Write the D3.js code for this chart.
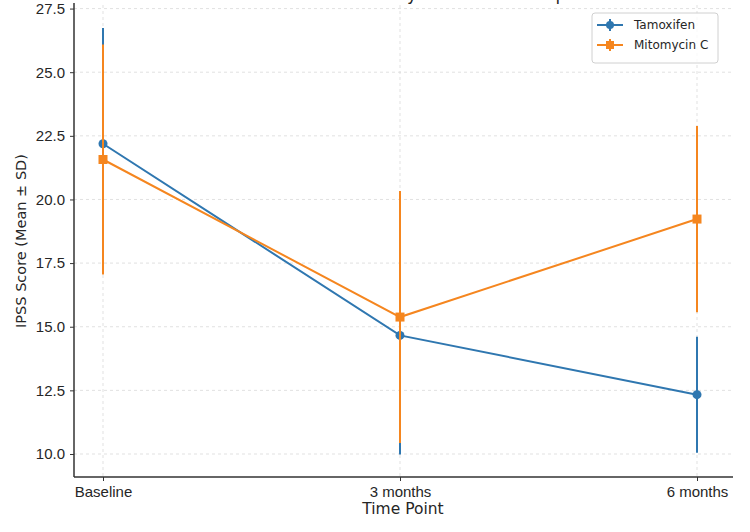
<!DOCTYPE html>
<html>
<head>
<meta charset="utf-8">
<script src="https://cdn.jsdelivr.net/npm/d3@7"></script>
<style>
  body { margin: 0; background: #fff; }
  svg { font-family: "DejaVu Sans", sans-serif; }
  .grid line { stroke: #d9d9d9; stroke-dasharray: 3,3; stroke-width: 0.8; }
  .tick text { fill: #262626; font-size: 15px; }
</style>
</head>
<body>
<svg id="chart" width="750" height="532"></svg>
<script>
// data
var timePoints = ["Baseline", "3 months", "6 months"];
var tamoxifenMean = [22.19, 14.66, 12.33];
var tamoxifenSD = [4.55, 4.68, 2.28];
var mitomycinMean = [21.57, 15.38, 19.23];
var mitomycinSD = [4.52, 4.95, 3.66];
var yTicks = [10.0, 12.5, 15.0, 17.5, 20.0, 22.5, 25.0, 27.5];

var series = [
    { name: "Tamoxifen", color: "#2f77b0", shape: "circle", mean: tamoxifenMean, sd: tamoxifenSD },
    { name: "Mitomycin C", color: "#f5861f", shape: "square", mean: mitomycinMean, sd: mitomycinSD }
];

var svg = d3.select("#chart"),
    plotLeft = 74, plotRight = 733, plotTop = 5, plotBottom = 477;

var x = d3.scalePoint().domain(timePoints).range([103, 697]);
var y = d3.scaleLinear().domain([9.096, 27.64]).range([plotBottom, plotTop]);

// grid
var grid = svg.append("g").attr("class", "grid");
grid.selectAll(".gy").data(yTicks).enter().append("line")
    .attr("x1", plotLeft).attr("x2", plotRight)
    .attr("y1", function (d) { return y(d); }).attr("y2", function (d) { return y(d); });
grid.selectAll(".gx").data(timePoints).enter().append("line")
    .attr("x1", function (d) { return x(d); }).attr("x2", function (d) { return x(d); })
    .attr("y1", plotTop).attr("y2", plotBottom);

// axes
var yAxis = svg.append("g")
    .attr("transform", "translate(" + plotLeft + ",0)")
    .call(d3.axisLeft(y).tickValues(yTicks).tickFormat(d3.format(".1f")).tickSizeOuter(0).tickSize(4).tickPadding(5));
var xAxis = svg.append("g")
    .attr("transform", "translate(0," + plotBottom + ")")
    .call(d3.axisBottom(x).tickSizeOuter(0).tickSize(4).tickPadding(5));
yAxis.select(".domain").remove();
xAxis.select(".domain").remove();
svg.selectAll(".tick line").attr("stroke", "#333");

svg.append("line").attr("x1", plotLeft).attr("x2", plotLeft).attr("y1", plotTop - 2).attr("y2", plotBottom)
    .attr("stroke", "#333").attr("stroke-width", 1.5);
svg.append("line").attr("x1", plotLeft).attr("x2", plotRight).attr("y1", plotBottom).attr("y2", plotBottom)
    .attr("stroke", "#333").attr("stroke-width", 1.5);

// labels
svg.append("text").attr("x", 403).attr("y", 514).attr("text-anchor", "middle")
    .attr("font-size", 15.5).attr("fill", "#262626").text("Time Point");
svg.append("text").attr("transform", "translate(26," + ((plotTop + plotBottom) / 2) + ") rotate(-90)")
    .attr("text-anchor", "middle").attr("font-size", 14.5).attr("fill", "#262626")
    .text("IPSS Score (Mean \u00b1 SD)");
// title sits mostly above the frame, only descenders show (as in the reference)
svg.append("text").attr("x", 387).attr("y", 0).attr("text-anchor", "middle")
    .attr("font-size", 17).attr("fill", "#262626")
    .text("IPSS Score Over Time by Treatment Group");

// series
var line = d3.line()
    .x(function (d, i) { return x(timePoints[i]); })
    .y(function (d) { return y(d); });

series.forEach(function (s) {
    var g = svg.append("g");
    g.selectAll(".err").data(s.mean).enter().append("line")
        .attr("x1", function (d, i) { return x(timePoints[i]); })
        .attr("x2", function (d, i) { return x(timePoints[i]); })
        .attr("y1", function (d, i) { return y(d - s.sd[i]); })
        .attr("y2", function (d, i) { return y(d + s.sd[i]); })
        .attr("stroke", s.color).attr("stroke-width", 2);
    g.append("path").datum(s.mean).attr("d", line)
        .attr("fill", "none").attr("stroke", s.color).attr("stroke-width", 2);
    if (s.shape === "circle") {
        g.selectAll(".pt").data(s.mean).enter().append("circle")
            .attr("cx", function (d, i) { return x(timePoints[i]); })
            .attr("cy", function (d) { return y(d); })
            .attr("r", 4.5).attr("fill", s.color);
    } else {
        g.selectAll(".pt").data(s.mean).enter().append("rect")
            .attr("x", function (d, i) { return x(timePoints[i]) - 4.5; })
            .attr("y", function (d) { return y(d) - 4.5; })
            .attr("width", 9).attr("height", 9).attr("fill", s.color);
    }
});

// legend
var legend = svg.append("g").attr("transform", "translate(592,13)");
legend.append("rect").attr("width", 126).attr("height", 50).attr("rx", 3)
    .attr("fill", "#fff").attr("fill-opacity", 0.8).attr("stroke", "#d0d0d0");
series.forEach(function (s, i) {
    var cy = 12 + i * 20;
    var item = legend.append("g").attr("transform", "translate(0," + cy + ")");
    item.append("line").attr("x1", 5).attr("x2", 31).attr("stroke", s.color).attr("stroke-width", 2);
    item.append("line").attr("x1", 18).attr("x2", 18).attr("y1", -6).attr("y2", 6)
        .attr("stroke", s.color).attr("stroke-width", 2);
    if (s.shape === "circle") {
        item.append("circle").attr("cx", 18).attr("r", 4).attr("fill", s.color);
    } else {
        item.append("rect").attr("x", 14).attr("y", -4).attr("width", 8).attr("height", 8).attr("fill", s.color);
    }
    item.append("text").attr("x", 42).attr("dy", "0.35em").attr("font-size", 12)
        .attr("fill", "#262626").text(s.name);
});
</script>
</body>
</html>
